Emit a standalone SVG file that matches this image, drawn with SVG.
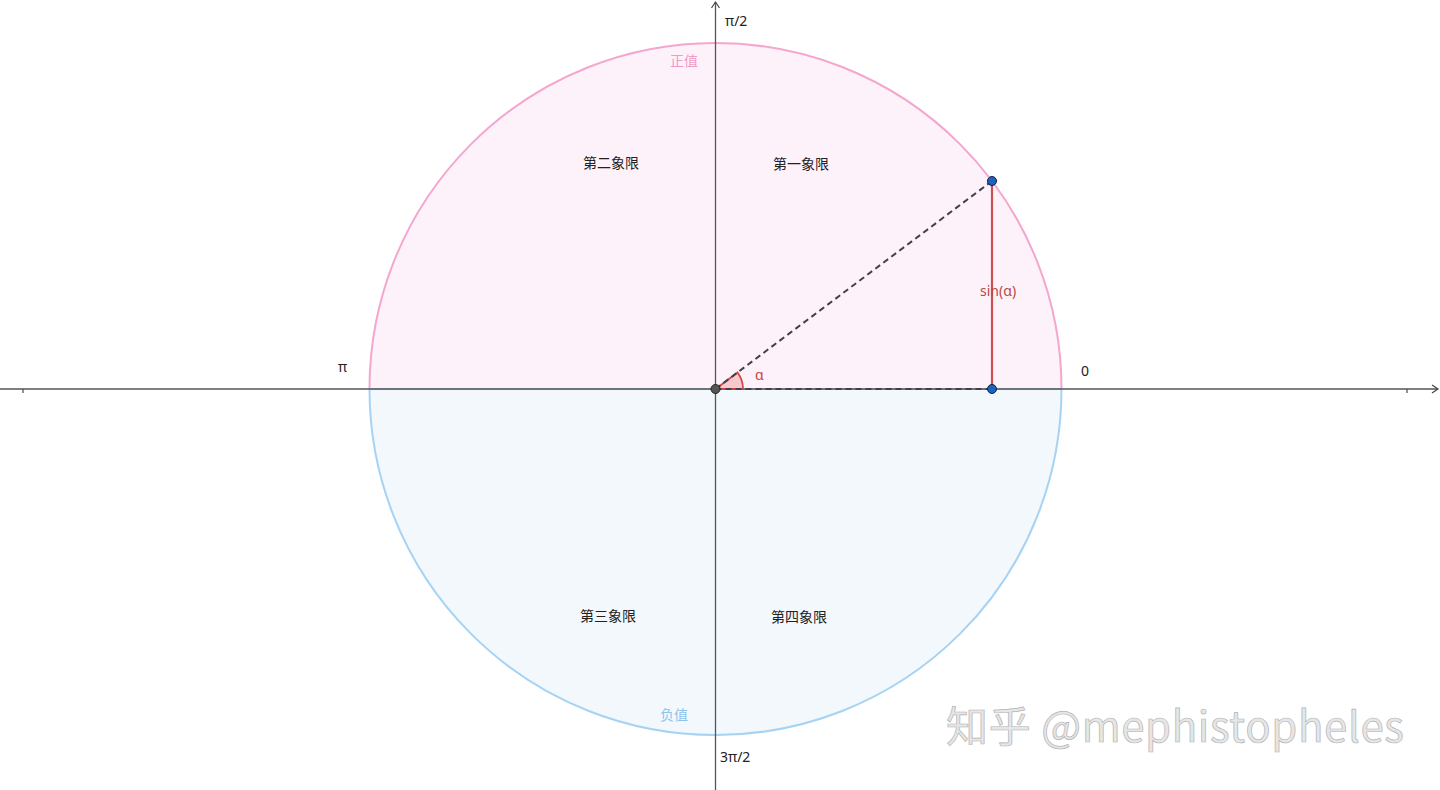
<svg xmlns="http://www.w3.org/2000/svg" width="1440" height="790" viewBox="0 0 1440 790">
<style>
.t{font-family:"Noto Sans","Noto Sans CJK SC",sans-serif;font-size:14px;fill:#222}
.q{font-family:"Noto Sans CJK SC","Noto Sans",sans-serif;font-size:14px;fill:#222}
.axis{stroke:#555;stroke-width:1.3;fill:none}
.dash{stroke:#404048;stroke-width:2;stroke-dasharray:6,4;fill:none}
.pt{fill:#1a62c4;stroke:#123;stroke-width:1}
</style>
<defs>
<marker id="arr" markerWidth="10" markerHeight="10" refX="7" refY="5" orient="auto" markerUnits="userSpaceOnUse">
<path d="M1,1 L7,5 L1,9" fill="none" stroke="#444" stroke-width="1.2"/>
</marker>
</defs>
<rect width="1440" height="790" fill="#ffffff"/>
<g id="upper-half">
<path d="M369.5,389 A346,346 0 0 1 1061.5,389 Z" fill="#fef2fa" stroke="none"/>
<path d="M369.5,389 A346,346 0 0 1 1061.5,389" fill="none" stroke="#f4a6cf" stroke-width="2"/>
</g>
<g id="lower-half">
<path d="M369.5,389 A346,346 0 0 0 1061.5,389 Z" fill="#f3f8fd" stroke="none"/>
<path d="M369.5,389 A346,346 0 0 0 1061.5,389" fill="none" stroke="#a6d3f3" stroke-width="2"/>
<line x1="369.5" y1="389" x2="1061.5" y2="389" stroke="#a6d3f3" stroke-width="2"/>
</g>
<g id="axes">
<line class="axis" x1="0" y1="389" x2="1438" y2="389" marker-end="url(#arr)"/>
<line class="axis" x1="715.5" y1="790" x2="715.5" y2="2" marker-end="url(#arr)"/>
<line class="axis" x1="23" y1="389" x2="23" y2="393"/>
<line class="axis" x1="1407" y1="389" x2="1407" y2="393"/>
</g>
<g id="angle">
<path d="M715.5,389 L743,389 A27.5,27.5 0 0 0 737.5,372.5 Z" fill="#f7c9cc" stroke="#d04545" stroke-width="1.8"/>
</g>
<g id="connectors">
<line class="dash" x1="715.5" y1="389" x2="992" y2="181"/>
<line class="dash" x1="715.5" y1="389" x2="992" y2="389"/>
<line x1="992" y1="181" x2="992" y2="389" stroke="#c9504f" stroke-width="2.2"/>
</g>
<g id="points">
<circle cx="715.5" cy="389" r="4.5" fill="#555" stroke="#222" stroke-width="1"/>
<circle class="pt" cx="992" cy="181" r="4.5"/>
<circle class="pt" cx="992" cy="389" r="4.5"/>
</g>
<g id="labels">
<text class="t" x="725" y="26">π/2</text>
<text class="t" x="338" y="372">π</text>
<text class="t" x="1081" y="376">0</text>
<text class="t" x="720" y="762">3π/2</text>
<text class="t" x="755" y="380" style="fill:#c94040">α</text>
<text class="t" x="980" y="296" style="fill:#b84848">sin(α)</text>
<text class="q" x="670" y="66" style="fill:#f29ac8">正值</text>
<text class="q" x="660" y="720" style="fill:#8cc4ec">负值</text>
<text class="q" x="583" y="168">第二象限</text>
<text class="q" x="773" y="169">第一象限</text>
<text class="q" x="580" y="621">第三象限</text>
<text class="q" x="771" y="622">第四象限</text>
</g>
<g id="watermark">
<text x="946" y="742" font-family="'Noto Sans CJK SC','Noto Sans',sans-serif" font-size="42" textLength="458" fill="#e6e6e6" stroke="#b4b4b4" stroke-width="0.7">知乎 @mephistopheles</text>
</g>
</svg>
